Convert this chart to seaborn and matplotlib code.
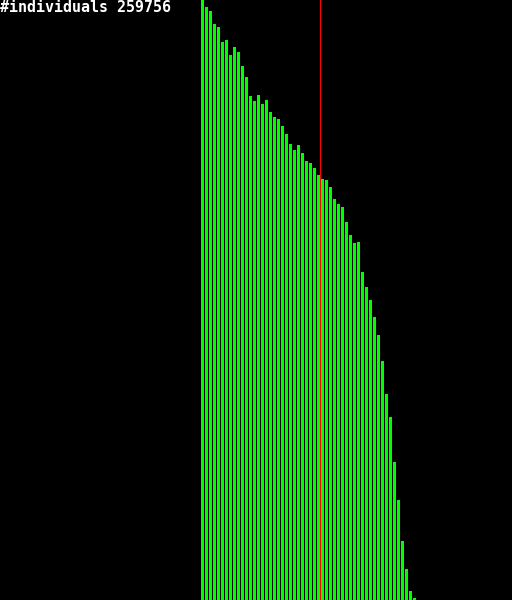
import matplotlib
matplotlib.use("Agg")
import matplotlib.pyplot as plt
import seaborn as sns
import pandas as pd

# bar heights (pixel units of a 600 px tall chart)
heights = [600, 593, 589, 576, 573, 558, 560, 545, 553, 548,
           534, 523, 504, 499, 505, 496, 500, 488, 483, 481,
           474, 466, 456, 450, 455, 447, 439, 437, 432, 425,
           421, 420, 413, 401, 396, 393, 378, 365, 357, 358,
           328, 313, 300, 283, 265, 239, 206, 183, 138, 100,
           59, 31, 9, 2]
categories = list(range(len(heights)))
marker_position = 29.5
title_text = "#individuals 259756"

df = pd.DataFrame({"bin": categories, "count": heights})

sns.set_style("dark")
fig = plt.figure(figsize=(5.12, 6.0), dpi=100, facecolor="black")
ax = fig.add_axes([0, 0, 1, 1])
ax.set_facecolor("black")

sns.barplot(data=df, x="bin", y="count", color="#00ff00", saturation=1,
            width=0.75, linewidth=0, edgecolor="none", ax=ax)
for p in ax.patches:
    p.set_snap(False)
    p.set_antialiased(True)
    p.set_facecolor("#00ff00")

ax.axvline(marker_position, color="#ff0000", linewidth=0.72,
           snap=False, antialiased=True)

ax.set_xlim(-50.625, 77.375)
ax.set_ylim(0, 600)
ax.set_axis_off()

fig.text(0.0, 1.0, title_text, color="white", family="DejaVu Sans Mono",
         fontsize=10.8, fontweight="bold", ha="left", va="top")

fig.savefig("out.png", dpi=100, facecolor="black")
